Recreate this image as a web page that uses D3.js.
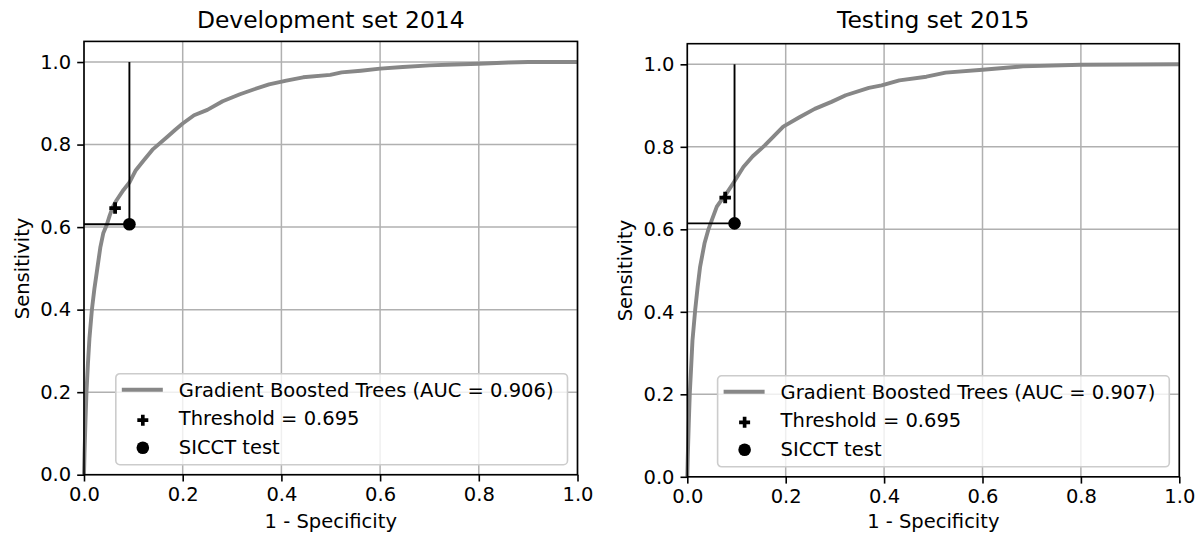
<!DOCTYPE html>
<html>
<head>
<meta charset="utf-8">
<script src="https://cdn.jsdelivr.net/npm/d3@7"></script>
<style>
	body { margin: 0; background: #fff; }
	svg { display: block; font-family: "DejaVu Sans", sans-serif; }
</style>
</head>
<body>
<svg id="chart" width="1200" height="535"></svg>
<script>
// ROC curve, development set 2014
const devFpr = [0, 0.001, 0.003, 0.005, 0.008, 0.011, 0.016, 0.021, 0.027, 0.033, 0.039, 0.046, 0.052, 0.058, 0.066, 0.08, 0.092, 0.105, 0.12, 0.14, 0.169, 0.185, 0.2, 0.223, 0.25, 0.281, 0.316, 0.345, 0.375, 0.41, 0.444, 0.499, 0.522, 0.561, 0.6, 0.646, 0.7, 0.75, 0.8, 0.86, 0.9, 1];
const devTpr = [0, 0.05, 0.13, 0.2, 0.27, 0.33, 0.4, 0.45, 0.5, 0.55, 0.585, 0.605, 0.628, 0.648, 0.665, 0.69, 0.708, 0.738, 0.76, 0.789, 0.819, 0.836, 0.851, 0.871, 0.884, 0.905, 0.922, 0.934, 0.946, 0.955, 0.963, 0.969, 0.975, 0.979, 0.984, 0.988, 0.992, 0.994, 0.996, 0.999, 1, 1];

// ROC curve, testing set 2015
const testFpr = [0, 0.001, 0.003, 0.005, 0.008, 0.0105, 0.016, 0.021, 0.026, 0.035, 0.043, 0.05, 0.06, 0.07, 0.078, 0.094, 0.114, 0.133, 0.157, 0.176, 0.195, 0.227, 0.259, 0.293, 0.322, 0.369, 0.395, 0.431, 0.486, 0.525, 0.6, 0.682, 0.8, 1];
const testTpr = [0, 0.05, 0.13, 0.2, 0.27, 0.33, 0.404, 0.46, 0.509, 0.566, 0.6, 0.623, 0.655, 0.672, 0.684, 0.713, 0.751, 0.777, 0.803, 0.826, 0.849, 0.871, 0.892, 0.909, 0.925, 0.943, 0.949, 0.961, 0.97, 0.98, 0.987, 0.995, 0.999, 1];

const panelTitles = ["Development set 2014", "Testing set 2015"];
const curveLabels = ["Gradient Boosted Trees (AUC = 0.906)", "Gradient Boosted Trees (AUC = 0.907)"];
const thresholdLabel = "Threshold = 0.695";
const sicctLabel = "SICCT test";
const thresholdFpr = [0.063, 0.077];
const thresholdTpr = [0.646, 0.677];
const sicctFpr = [0.092, 0.096];
const sicctTpr = [0.607, 0.6145];
const tickValues = [0, 0.2, 0.4, 0.6, 0.8, 1.0];

const CURVE_COLOR = "#878787";
const GRID_COLOR = "#b0b0b0";
const FONT = 19.5;

const panels = [
	{ left: 84, right: 577.5, top: 41.4, bottom: 474.7, fpr: devFpr, tpr: devTpr },
	{ left: 687.3, right: 1179.3, top: 43.7, bottom: 476.8, fpr: testFpr, tpr: testTpr },
];

const svg = d3.select("#chart");

panels.forEach((p, i) => drawPanel(p, i));

function plusPath(size) {
	const a = size / 2, b = size / 6;
	return `M${-b},${-a}H${b}V${-b}H${a}V${b}H${b}V${a}H${-b}V${b}H${-a}V${-b}H${-b}Z`;
}

function drawPanel(p, i) {
	const g = svg.append("g");

	const x = d3.scaleLinear().domain([0, 1]).range([p.left, p.right]);
	const y = d3.scaleLinear().domain([0, 1.05]).range([p.bottom, p.top]);

	// grid
	g.append("g")
		.attr("stroke", GRID_COLOR)
		.attr("stroke-width", 1.5)
		.call(gg => gg.selectAll(".vg")
			.data(tickValues)
			.join("line")
			.attr("x1", d => x(d)).attr("x2", d => x(d))
			.attr("y1", p.top).attr("y2", p.bottom))
		.call(gg => gg.selectAll(".hg")
			.data(tickValues)
			.join("line")
			.attr("x1", p.left).attr("x2", p.right)
			.attr("y1", d => y(d)).attr("y2", d => y(d)));

	// ROC curve
	const pts = p.fpr.map((v, k) => [v, p.tpr[k]]);
	g.append("path")
		.datum(pts)
		.attr("fill", "none")
		.attr("stroke", CURVE_COLOR)
		.attr("stroke-width", 3.9)
		.attr("stroke-linejoin", "round")
		.attr("d", d3.line().x(d => x(d[0])).y(d => y(d[1])));

	// SICCT reference lines
	const sx = sicctFpr[i], sy = sicctTpr[i];
	g.append("line")
		.attr("x1", x(sx)).attr("x2", x(sx))
		.attr("y1", y(sy)).attr("y2", y(1))
		.attr("stroke", "#000").attr("stroke-width", 1.9);
	g.append("line")
		.attr("x1", x(0)).attr("x2", x(sx))
		.attr("y1", y(sy)).attr("y2", y(sy))
		.attr("stroke", "#000").attr("stroke-width", 1.9);

	// markers
	g.append("path")
		.attr("d", plusPath(11.5))
		.attr("transform", `translate(${x(thresholdFpr[i])},${y(thresholdTpr[i])})`)
		.attr("fill", "#000");
	g.append("circle")
		.attr("cx", x(sx)).attr("cy", y(sy))
		.attr("r", 6.3)
		.attr("fill", "#000");

	// spines
	g.append("rect")
		.attr("x", p.left).attr("y", p.top)
		.attr("width", p.right - p.left).attr("height", p.bottom - p.top)
		.attr("fill", "none")
		.attr("stroke", "#000")
		.attr("stroke-width", 1.6);

	// axes
	const xAxis = g.append("g")
		.attr("transform", `translate(0,${p.bottom})`)
		.call(d3.axisBottom(x).tickValues(tickValues).tickFormat(d3.format(".1f")).tickSize(6.8).tickPadding(6));
	const yAxis = g.append("g")
		.attr("transform", `translate(${p.left},0)`)
		.call(d3.axisLeft(y).tickValues(tickValues).tickFormat(d3.format(".1f")).tickSize(6.8).tickPadding(6));
	[xAxis, yAxis].forEach(ax => {
		ax.select(".domain").remove();
		ax.selectAll(".tick line").attr("stroke", "#000").attr("stroke-width", 1.6);
		ax.selectAll(".tick text")
			.attr("fill", "#000")
			.style("font-size", FONT + "px")
			.style("font-family", "DejaVu Sans");
	});

	// labels
	const cx = (p.left + p.right) / 2;
	g.append("text")
		.attr("x", cx).attr("y", 28)
		.attr("text-anchor", "middle")
		.style("font-size", "23.4px")
		.text(panelTitles[i]);
	g.append("text")
		.attr("x", cx).attr("y", 528)
		.attr("text-anchor", "middle")
		.style("font-size", FONT + "px")
		.text("1 - Specificity");
	g.append("text")
		.attr("transform", `translate(${p.left - 55},${(y(0) + y(1)) / 2}) rotate(-90)`)
		.attr("text-anchor", "middle")
		.style("font-size", FONT + "px")
		.text("Sensitivity");

	// legend (lower right)
	const lg = g.append("g");
	const frame = lg.append("rect").attr("rx", 4).attr("ry", 4)
		.attr("fill", "#fff").attr("fill-opacity", 0.8)
		.attr("stroke", "#cccccc").attr("stroke-width", 1.6);
	const labels = [curveLabels[i], thresholdLabel, sicctLabel];
	const rowY = [16, 44.5, 73];
	const textX = 63;
	let maxW = 0;
	labels.forEach((t, k) => {
		const tx = lg.append("text")
			.attr("x", textX).attr("y", rowY[k] + 7)
			.style("font-size", FONT + "px")
			.text(t);
		maxW = Math.max(maxW, tx.node().getComputedTextLength());
	});
	lg.append("line")
		.attr("x1", 6).attr("x2", 47)
		.attr("y1", rowY[0]).attr("y2", rowY[0])
		.attr("stroke", CURVE_COLOR).attr("stroke-width", 3.9);
	lg.append("path")
		.attr("d", plusPath(11))
		.attr("transform", `translate(27,${rowY[1] + 2})`)
		.attr("fill", "#000");
	lg.append("circle")
		.attr("cx", 27).attr("cy", rowY[2] + 1)
		.attr("r", 6.3).attr("fill", "#000");
	const lw = textX + maxW + 14, lh = 91;
	frame.attr("width", lw).attr("height", lh);
	lg.attr("transform", `translate(${p.right - 10 - lw},${p.bottom - 10 - lh})`);
}
</script>
</body>
</html>
